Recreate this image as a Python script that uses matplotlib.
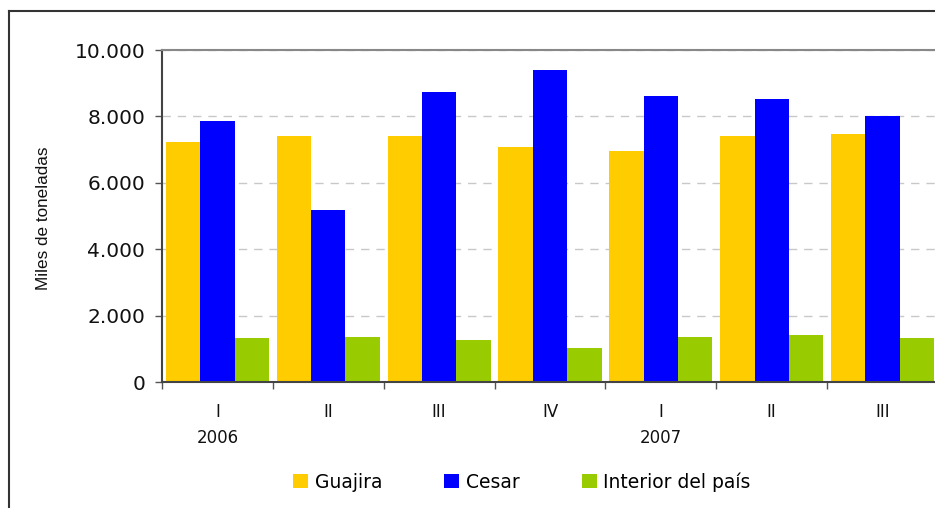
import numpy as np
import matplotlib
matplotlib.use('Agg')
import matplotlib.pyplot as plt
from matplotlib.lines import Line2D
from matplotlib.ticker import FuncFormatter, FixedLocator

# Data (miles de toneladas)
quarters = ['I', 'II', 'III', 'IV', 'I', 'II', 'III']
years = {0: '2006', 4: '2007'}
guajira = [7230, 7410, 7410, 7080, 6960, 7410, 7470]
cesar = [7860, 5180, 8740, 9400, 8620, 8530, 8010]
interior = [1330, 1360, 1270, 1030, 1360, 1420, 1330]

series_names = ['Guajira', 'Cesar', 'Interior del país']
colors = ['#FFCC00', '#0000FF', '#99CC00']

fig = plt.figure(figsize=(9.35, 5.08), dpi=100)
ax = fig.add_axes([162 / 935, 125.7 / 508, 776 / 935, 332.3 / 508])

x = np.arange(len(quarters))
w = 0.31
for i, (vals, name, col) in enumerate(zip([guajira, cesar, interior], series_names, colors)):
    ax.bar(x + (i - 1) * w, vals, width=w, color=col, label=name, zorder=2)

ax.set_xlim(-0.5, len(quarters) - 0.5)
ax.set_ylim(0, 10000)
ax.set_yticks(np.arange(0, 10001, 2000))
ax.yaxis.set_major_formatter(FuncFormatter(lambda v, p: f'{int(v):,}'.replace(',', '.')))
ax.tick_params(axis='y', labelsize=14.5, length=5, width=1, pad=7, colors='#555555', labelcolor='#111111')

# category boundaries as ticks, quarter names as minor labels
ax.xaxis.set_major_locator(FixedLocator(np.arange(-0.5, len(quarters), 1.0)))
ax.set_xticklabels([])
ax.xaxis.set_minor_locator(FixedLocator(x))
ax.set_xticklabels(quarters, minor=True)
ax.tick_params(axis='x', which='major', length=5, width=1, colors='#555555')
ax.tick_params(axis='x', which='minor', length=0, labelsize=12, pad=15, labelcolor='#111111')

for pos, yr in years.items():
    ax.annotate(yr, xy=(pos, 0), xycoords=('data', 'axes fraction'), xytext=(0, -40),
                textcoords='offset points', ha='center', va='center', fontsize=12, color='#111111')

ax.yaxis.grid(True, linestyle=(0, (6, 5)), color='#c8c8c8', linewidth=1)
ax.set_axisbelow(True)

ax.spines['left'].set_color('#444444')
ax.spines['left'].set_linewidth(1.5)
ax.spines['bottom'].set_color('#444444')
ax.spines['bottom'].set_linewidth(1.5)
ax.spines['top'].set_color('#888888')
ax.spines['top'].set_linewidth(1.5)
ax.spines['right'].set_color('#888888')

fig.text(44 / 935, 1 - 218 / 508, 'Miles de toneladas', rotation=90, ha='center', va='center',
         fontsize=12.3, family='Liberation Sans', color='#111111')

fig.legend(loc='center', bbox_to_anchor=(522 / 935, 1 - 482 / 508), ncol=3, frameon=False,
           fontsize=13.5, handlelength=0.8, handleheight=0.75, handletextpad=0.35,
           columnspacing=3.3)

# outer frame (only left and top edges visible)
fig.add_artist(Line2D([9 / 935, 9 / 935], [0, 1 - 11 / 508], transform=fig.transFigure,
                      color='#333333', linewidth=1.5))
fig.add_artist(Line2D([9 / 935, 1], [1 - 11 / 508, 1 - 11 / 508], transform=fig.transFigure,
                      color='#333333', linewidth=1.5))

fig.savefig('out.png', dpi=100)
